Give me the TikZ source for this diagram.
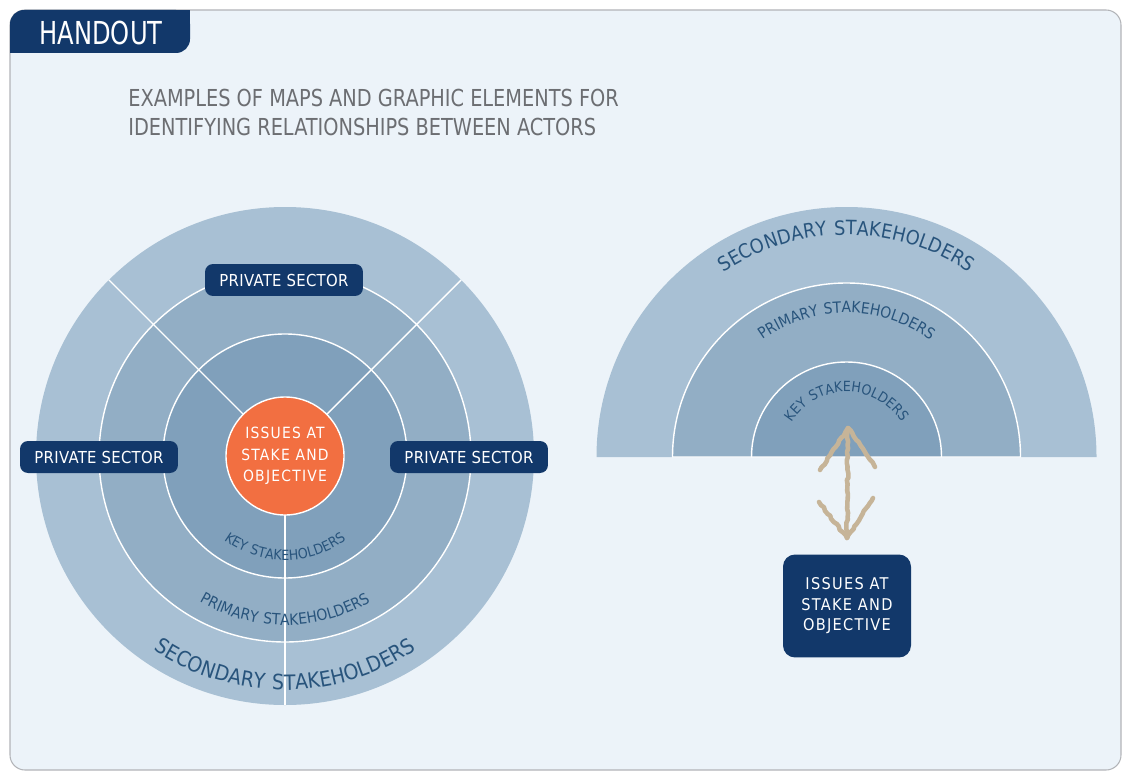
\documentclass[tikz,border=0pt]{standalone}
\usepackage{fontspec}
\setmainfont{DejaVu Sans Condensed}
\newfontfamily\capsfont[LetterSpace=8]{DejaVu Sans Condensed}
\newfontfamily\labelfont[LetterSpace=2]{DejaVu Sans Condensed}
\newfontfamily\titlefont[FakeStretch=0.92]{DejaVu Sans Condensed}
\newfontfamily\tabfont[FakeStretch=0.85]{DejaVu Sans Condensed}
\usetikzlibrary{calc,decorations.text,decorations.pathmorphing}
\definecolor{framefill}{RGB}{236,243,249}
\definecolor{framegray}{RGB}{178,180,184}
\definecolor{navy}{RGB}{18,56,106}
\definecolor{titlegray}{RGB}{108,110,114}
\definecolor{secfill}{RGB}{168,192,212}
\definecolor{primfill}{RGB}{146,174,197}
\definecolor{keyfill}{RGB}{128,160,187}
\definecolor{issueorange}{RGB}{242,111,65}
\definecolor{ringtext}{RGB}{40,84,124}
\definecolor{arrowtan}{RGB}{198,180,152}
\def\arctext[#1](#2)(#3:#4:#5)#6{\path[decorate,decoration={text along path,text align=center,text color=ringtext,text={|#1|#6}}] ($(#2)+({#5*cos(#3)},{#5*sin(#3)})$) arc (#3:#4:#5);}

\begin{document}
\begin{tikzpicture}[x=0.02cm,y=0.02cm,
    sectorbox/.style={fill=navy, text=white, rounded corners=0.16cm, minimum width=3.16cm, minimum height=0.64cm, inner sep=0pt, font=\labelfont\fontsize{9.4}{11}\selectfont},
    ringline/.style={draw=white, line width=0.8pt}]
			%%%%% FRAME %%%%%
			\useasboundingbox (0,0) rectangle (1125,772);
			\draw[framegray, fill=framefill, line width=0.6pt, rounded corners=0.3cm] (10,2) rectangle (1121,762);
			
			\fill[navy, rounded corners=0.28cm] (10,719) rectangle (190,762);
			\fill[navy] (10,719) rectangle (30,740);
			\fill[navy] (170,740) rectangle (190,762);
			\node[white, anchor=base, font=\tabfont\fontsize{18}{20}\selectfont] (handout) at (101,727) {HANDOUT};
			
			\node[titlegray, anchor=base west, inner sep=0pt, font=\titlefont\fontsize{13.3}{16}\selectfont] (title1) at (128,665) {EXAMPLES OF MAPS AND GRAPHIC ELEMENTS FOR};
			\node[titlegray, anchor=base west, inner sep=0pt, font=\titlefont\fontsize{13.3}{16}\selectfont] (title2) at (128,636) {IDENTIFYING RELATIONSHIPS BETWEEN ACTORS};
			
			%%%%% LEFT CIRCLE %%%%%
			\coordinate (C1) at (285,316);
			\fill[secfill] (C1) circle (249);
			\filldraw[primfill, ringline] (C1) circle (186);
			\filldraw[keyfill, ringline] (C1) circle (122);
			
			\foreach \a in {45,135,270}
				\draw[ringline] ($(C1)+(\a:59)$) -- ($(C1)+(\a:249)$);
			
			\filldraw[issueorange, ringline] (C1) circle (59);
			\node[white, align=center, font=\capsfont\fontsize{8.8}{12.2}\selectfont] (issues) at (C1) {ISSUES AT\\STAKE AND\\OBJECTIVE};
			
			\arctext[\capsfont\fontsize{8}{9}\selectfont](C1)(200:340:104){KEY STAKEHOLDERS}
			\arctext[\capsfont\fontsize{8.8}{10}\selectfont](C1)(205:335:169){PRIMARY STAKEHOLDERS}
			\arctext[\capsfont\fontsize{12}{13}\selectfont](C1)(215:325:234){SECONDARY STAKEHOLDERS}
			
			\node[sectorbox] (topsector) at (284,492) {PRIVATE SECTOR};
			\node[sectorbox] (leftsector) at (99,315) {PRIVATE SECTOR};
			\node[sectorbox] (rightsector) at (469,315) {PRIVATE SECTOR};
			
			%%%%% RIGHT HALF %%%%%
			\coordinate (C2) at (846.5,315);
			\fill[secfill] ($(C2)+(-250,0)$) arc (180:0:250) -- cycle;
			\filldraw[primfill, ringline] ($(C2)+(-174,0)$) arc (180:0:174) -- cycle;
			\filldraw[keyfill, ringline] ($(C2)+(-95,0)$) arc (180:0:95) -- cycle;
			
			\arctext[\capsfont\fontsize{11.2}{13}\selectfont](C2)(160:20:222){SECONDARY STAKEHOLDERS}
			\arctext[\capsfont\fontsize{8.8}{10}\selectfont](C2)(165:15:144){PRIMARY STAKEHOLDERS}
			\arctext[\capsfont\fontsize{8}{9}\selectfont](C2)(175:5:65){KEY STAKEHOLDERS}
			
			%%%%% ARROW %%%%%
			\coordinate (arrtop) at (848,344);
			\coordinate (arrbot) at (847,234);
			\begin{scope}[arrowtan, line width=2.6pt, line cap=round, line join=round, decoration={random steps, segment length=2pt, amplitude=0.5pt}]
				\draw[decorate] (arrtop) -- (arrbot);
				\draw[decorate] (820,302) -- (arrtop) -- (875,305);
				\draw[decorate] (819,270) -- (arrbot) -- (873,274);
			\end{scope}
			
			\node[fill=navy, text=white, rounded corners=0.24cm, minimum width=2.56cm, minimum height=2.06cm, align=center, font=\capsfont\fontsize{9.2}{11.7}\selectfont] (issuesbox) at (847,166) {ISSUES AT\\STAKE AND\\OBJECTIVE};
			
			%%%%% END %%%%%
		\end{tikzpicture}
\end{document}
